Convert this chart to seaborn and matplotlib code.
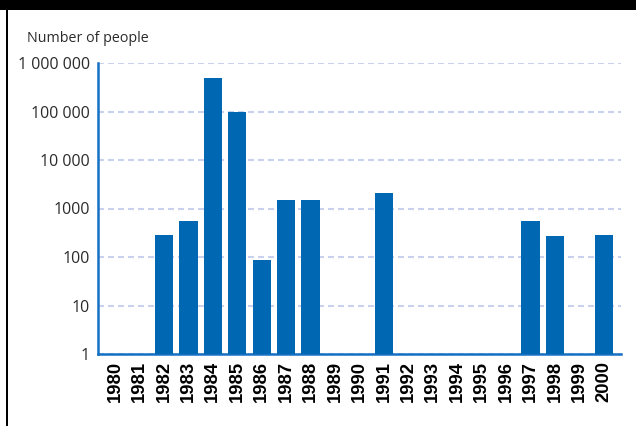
import pandas as pd
import matplotlib
matplotlib.use("Agg")
import matplotlib.pyplot as plt
import seaborn as sns
from matplotlib.patches import Rectangle

# Data (missing years have no bar)
years = [str(y) for y in range(1980, 2001)]
people = [None, None, 290, 540, 480000, 100000, 88, 1470, 1470, None, None,
          2050, None, None, None, None, None, 550, 265, None, 290]
ytick_values = [1, 10, 100, 1000, 10000, 100000, 1000000]
ytick_labels = ["1", "10", "100", "1000", "10 000", "100 000", "1 000 000"]

bar_color = "#0068b3"
spine_color = "#1570c4"
grid_color = "#c9d1ef"

df = pd.DataFrame({"year": years, "people": people})

sns.set_theme(style="white")
plt.rcParams["lines.scale_dashes"] = False

fig = plt.figure(figsize=(6.36, 4.26), dpi=100)
ax = fig.add_axes([98 / 636, 1 - 354 / 426, 523 / 636, 291 / 426])

sns.barplot(data=df, x="year", y="people", order=years, color=bar_color,
            saturation=1, width=0.75, linewidth=0, ax=ax, zorder=3)
ax.set_yscale("log")
ax.set_ylim(1, 1000000)
ax.set_xlim(-0.7, len(years) - 0.3)

ax.set_yticks(ytick_values)
ax.set_yticklabels(ytick_labels)
ax.yaxis.set_minor_locator(matplotlib.ticker.NullLocator())
ax.grid(axis="y", color=grid_color, linewidth=1.5, linestyle=(0, (4.3, 2.9)), zorder=0)
ax.set_axisbelow(True)

for side in ["top", "right"]:
    ax.spines[side].set_visible(False)
for side in ["left", "bottom"]:
    ax.spines[side].set_color(spine_color)
    ax.spines[side].set_linewidth(1.8)

ax.tick_params(axis="y", length=3, width=1.5, color=grid_color, pad=3,
               labelsize=11.5, labelcolor="#2b2b2b")
ax.tick_params(axis="x", length=0, pad=5)
for lbl in ax.get_yticklabels():
    lbl.set_fontfamily("Open Sans")
for lbl in ax.get_xticklabels():
    lbl.set_rotation(90)
    lbl.set_fontfamily("Liberation Sans")
    lbl.set_fontweight("bold")
    lbl.set_fontsize(13.3)
    lbl.set_color("black")
ax.set_xlabel("")
ax.set_ylabel("")

fig.text(27 / 636, 1 - 38 / 426, "Number of people", ha="left", va="center",
         fontsize=10.3, family="Open Sans", color="#2b2b2b")

# black frame strips (top and left edge)
fig.patches.append(Rectangle((0, 1 - 10 / 426), 1, 10 / 426, transform=fig.transFigure,
                             facecolor="black", edgecolor="none"))
fig.patches.append(Rectangle((6 / 636, 0), 2 / 636, 1, transform=fig.transFigure,
                             facecolor="black", edgecolor="none"))

fig.savefig("out.png", dpi=100)
